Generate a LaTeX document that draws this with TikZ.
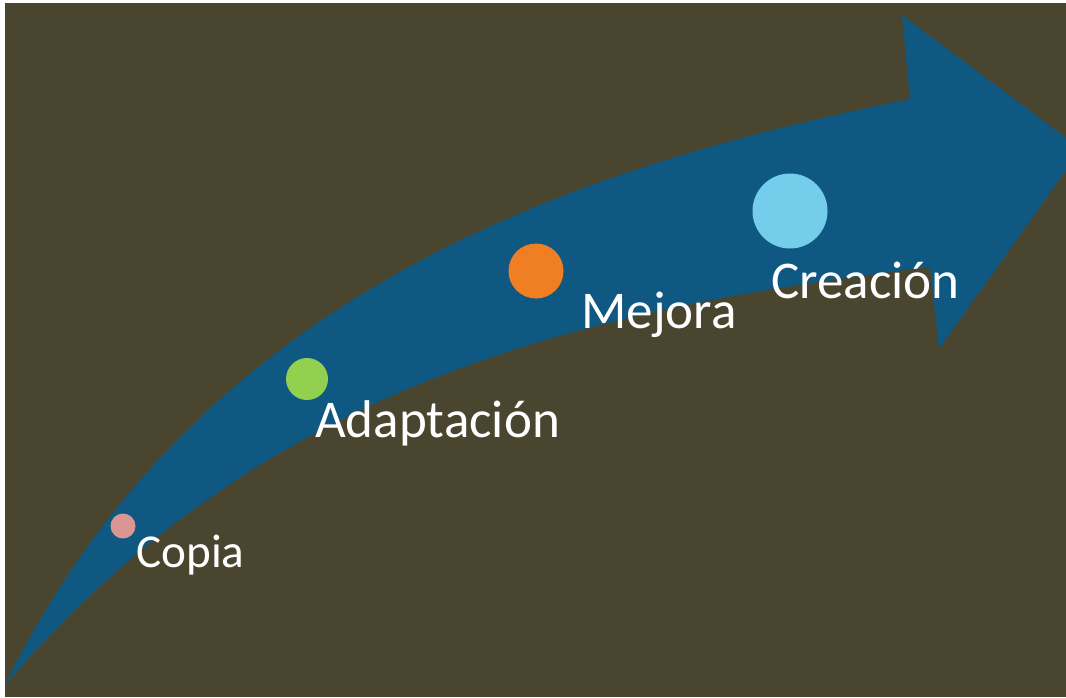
\documentclass[tikz,border=0pt]{standalone}
\usepackage{fontspec}
\setmainfont{Carlito}

\definecolor{bgOlive}{RGB}{74,69,46}
\definecolor{arrowBlue}{RGB}{15,88,129}
\definecolor{dotPink}{RGB}{217,150,148}
\definecolor{dotGreen}{RGB}{146,208,80}
\definecolor{dotOrange}{RGB}{240,126,34}
\definecolor{dotCyan}{RGB}{117,205,236}

\begin{document}
\begin{tikzpicture}[
        x=0.75pt, y=-0.75pt,
        dot/.style={circle, inner sep=0pt, minimum size=#1},
        stage/.style={anchor=base west, inner sep=0pt, text=white,
            font=\fontsize{39.8}{48}\selectfont}
    ]
        \useasboundingbox (0,0) rectangle (1066,697);

        % Hintergrund
        \fill[white] (0,0) rectangle (1066,697);
        \fill[bgOlive] (5,3) rectangle (1066,697);

        % Pfeil
        \begin{scope}
            \clip (5,3) rectangle (1066,697);
            \fill[arrowBlue] (5,685) .. controls (203,280) and (596,163) .. (910,99)
                -- (902,15) -- (1081,149) -- (939,349) -- (930,267)
                .. controls (584,309) and (265,381) .. (5,685) -- cycle;
        \end{scope}

        % Punkte
        \node[dot=18.75pt, fill=dotPink] (copiaDot) at (123,526) {};
        \node[dot=31.5pt, fill=dotGreen] (adaptDot) at (307,379) {};
        \node[dot=41.25pt, fill=dotOrange] (mejoraDot) at (536,271) {};
        \node[dot=56.25pt, fill=dotCyan] (creaDot) at (790,211) {};

        % Labels
        \node[stage, font=\fontsize{35.4}{42}\selectfont] (copia) at (136,567) {Copia};
        \node[stage] (adapt) at (315,437) {Adaptación};
        \node[stage] (mejora) at (581,328) {Mejora};
        \node[stage] (crea) at (771,298) {Creación};

    \end{tikzpicture}
\end{document}
